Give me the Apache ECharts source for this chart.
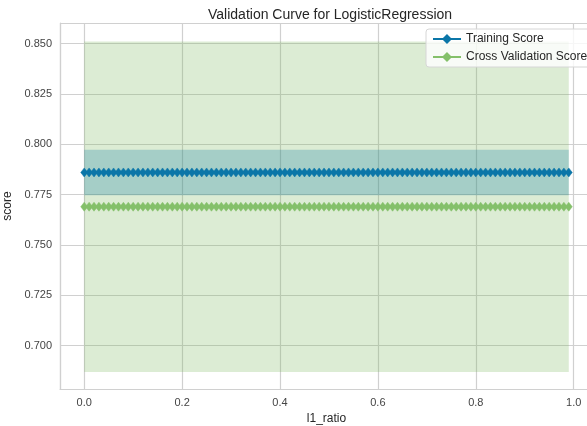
<!DOCTYPE html>
<html>
<head>
<meta charset="utf-8">
<script src="https://cdn.jsdelivr.net/npm/echarts@6/dist/echarts.min.js"></script>
<style>html,body{margin:0;padding:0;background:#fff;}#chart{width:587px;height:426px;}</style>
</head>
<body>
<div id="chart"></div>
<script>
const l1Ratio = [0.00,0.01,0.02,0.03,0.04,0.05,0.06,0.07,0.08,0.09,0.10,0.11,0.12,0.13,0.14,0.15,0.16,0.17,0.18,0.19,0.20,0.21,0.22,0.23,0.24,0.25,0.26,0.27,0.28,0.29,0.30,0.31,0.32,0.33,0.34,0.35,0.36,0.37,0.38,0.39,0.40,0.41,0.42,0.43,0.44,0.45,0.46,0.47,0.48,0.49,0.50,0.51,0.52,0.53,0.54,0.55,0.56,0.57,0.58,0.59,0.60,0.61,0.62,0.63,0.64,0.65,0.66,0.67,0.68,0.69,0.70,0.71,0.72,0.73,0.74,0.75,0.76,0.77,0.78,0.79,0.80,0.81,0.82,0.83,0.84,0.85,0.86,0.87,0.88,0.89,0.90,0.91,0.92,0.93,0.94,0.95,0.96,0.97,0.98,0.99];
const trainScoreMean = [0.786,0.786,0.786,0.786,0.786,0.786,0.786,0.786,0.786,0.786,0.786,0.786,0.786,0.786,0.786,0.786,0.786,0.786,0.786,0.786,0.786,0.786,0.786,0.786,0.786,0.786,0.786,0.786,0.786,0.786,0.786,0.786,0.786,0.786,0.786,0.786,0.786,0.786,0.786,0.786,0.786,0.786,0.786,0.786,0.786,0.786,0.786,0.786,0.786,0.786,0.786,0.786,0.786,0.786,0.786,0.786,0.786,0.786,0.786,0.786,0.786,0.786,0.786,0.786,0.786,0.786,0.786,0.786,0.786,0.786,0.786,0.786,0.786,0.786,0.786,0.786,0.786,0.786,0.786,0.786,0.786,0.786,0.786,0.786,0.786,0.786,0.786,0.786,0.786,0.786,0.786,0.786,0.786,0.786,0.786,0.786,0.786,0.786,0.786,0.786];
const trainScoreStd = [0.0113,0.0113,0.0113,0.0113,0.0113,0.0113,0.0113,0.0113,0.0113,0.0113,0.0113,0.0113,0.0113,0.0113,0.0113,0.0113,0.0113,0.0113,0.0113,0.0113,0.0113,0.0113,0.0113,0.0113,0.0113,0.0113,0.0113,0.0113,0.0113,0.0113,0.0113,0.0113,0.0113,0.0113,0.0113,0.0113,0.0113,0.0113,0.0113,0.0113,0.0113,0.0113,0.0113,0.0113,0.0113,0.0113,0.0113,0.0113,0.0113,0.0113,0.0113,0.0113,0.0113,0.0113,0.0113,0.0113,0.0113,0.0113,0.0113,0.0113,0.0113,0.0113,0.0113,0.0113,0.0113,0.0113,0.0113,0.0113,0.0113,0.0113,0.0113,0.0113,0.0113,0.0113,0.0113,0.0113,0.0113,0.0113,0.0113,0.0113,0.0113,0.0113,0.0113,0.0113,0.0113,0.0113,0.0113,0.0113,0.0113,0.0113,0.0113,0.0113,0.0113,0.0113,0.0113,0.0113,0.0113,0.0113,0.0113,0.0113];
const cvScoreMean = [0.769,0.769,0.769,0.769,0.769,0.769,0.769,0.769,0.769,0.769,0.769,0.769,0.769,0.769,0.769,0.769,0.769,0.769,0.769,0.769,0.769,0.769,0.769,0.769,0.769,0.769,0.769,0.769,0.769,0.769,0.769,0.769,0.769,0.769,0.769,0.769,0.769,0.769,0.769,0.769,0.769,0.769,0.769,0.769,0.769,0.769,0.769,0.769,0.769,0.769,0.769,0.769,0.769,0.769,0.769,0.769,0.769,0.769,0.769,0.769,0.769,0.769,0.769,0.769,0.769,0.769,0.769,0.769,0.769,0.769,0.769,0.769,0.769,0.769,0.769,0.769,0.769,0.769,0.769,0.769,0.769,0.769,0.769,0.769,0.769,0.769,0.769,0.769,0.769,0.769,0.769,0.769,0.769,0.769,0.769,0.769,0.769,0.769,0.769,0.769];
const cvScoreStd = [0.082,0.082,0.082,0.082,0.082,0.082,0.082,0.082,0.082,0.082,0.082,0.082,0.082,0.082,0.082,0.082,0.082,0.082,0.082,0.082,0.082,0.082,0.082,0.082,0.082,0.082,0.082,0.082,0.082,0.082,0.082,0.082,0.082,0.082,0.082,0.082,0.082,0.082,0.082,0.082,0.082,0.082,0.082,0.082,0.082,0.082,0.082,0.082,0.082,0.082,0.082,0.082,0.082,0.082,0.082,0.082,0.082,0.082,0.082,0.082,0.082,0.082,0.082,0.082,0.082,0.082,0.082,0.082,0.082,0.082,0.082,0.082,0.082,0.082,0.082,0.082,0.082,0.082,0.082,0.082,0.082,0.082,0.082,0.082,0.082,0.082,0.082,0.082,0.082,0.082,0.082,0.082,0.082,0.082,0.082,0.082,0.082,0.082,0.082,0.082];
const seriesNames = ['Training Score', 'Cross Validation Score'];
const titleText = 'Validation Curve for LogisticRegression';
const xName = 'l1_ratio';
const yName = 'score';

const TRAIN = '#0b76a8';
const CV = '#84c06a';
const FONT = '"Liberation Sans", Arial, sans-serif';
const GRID = '#d0d0d0';

function pairs(xs, ys) { return xs.map((x, i) => [x, ys[i]]); }

function bandSeries(mean, std, fill) {
  return {
    type: 'custom',
    silent: true,
    data: [[l1Ratio[0], mean[0]]],
    encode: { x: 0, y: 1 },
    z: 1,
    renderItem: function (params, api) {
      const pts = [];
      for (let i = 0; i < l1Ratio.length; i++) pts.push(api.coord([l1Ratio[i], mean[i] + std[i]]));
      for (let i = l1Ratio.length - 1; i >= 0; i--) pts.push(api.coord([l1Ratio[i], mean[i] - std[i]]));
      return { type: 'polygon', shape: { points: pts }, style: { fill: fill, stroke: null } };
    }
  };
}

function lineSeries(name, ys, color) {
  return {
    name: name,
    type: 'line',
    data: pairs(l1Ratio, ys),
    symbol: 'diamond',
    symbolSize: [7, 9],
    showAllSymbol: true,
    lineStyle: { color: color, width: 1.6 },
    itemStyle: { color: color, borderColor: color, borderWidth: 0.5 },
    z: 3,
    animation: false
  };
}

const chart = echarts.init(document.getElementById('chart'), null, { renderer: 'canvas' });
chart.setOption({
  animation: false,
  backgroundColor: '#ffffff',
  textStyle: { fontFamily: FONT },
  title: {
    text: titleText,
    left: 203, top: 3,
    textStyle: { fontFamily: FONT, fontSize: 14, fontWeight: 'normal', color: '#262626' }
  },
  grid: { left: 60, right: -6, top: 23, bottom: 37, containLabel: false, outerBoundsMode: 'none' },
  legend: {
    data: seriesNames,
    orient: 'vertical',
    left: 426, top: 29,
    itemWidth: 28, itemHeight: 9,
    itemGap: 6,
    padding: [4, 8, 4, 6],
    backgroundColor: 'rgba(255,255,255,0.8)',
    borderColor: '#d6d6d6', borderWidth: 1, borderRadius: 3,
    textStyle: { fontFamily: FONT, fontSize: 12, color: '#262626' }
  },
  xAxis: {
    type: 'value',
    min: -0.0495, max: 1.0395,
    minInterval: 0.2, maxInterval: 0.2, splitNumber: 5,
    name: xName, nameLocation: 'middle', nameGap: 22,
    nameTextStyle: { fontFamily: FONT, fontSize: 12, color: '#262626' },
    axisLine: { show: true, onZero: false, lineStyle: { color: GRID, width: 1.2 } },
    axisTick: { show: false },
    axisLabel: { showMinLabel: false, showMaxLabel: false, margin: 8, fontSize: 11, color: '#444', fontFamily: FONT,
      formatter: v => v.toFixed(1) },
    splitLine: { show: true, lineStyle: { color: GRID, width: 1.2 } }
  },
  yAxis: {
    type: 'value',
    min: 0.6785, max: 0.8602,
    minInterval: 0.025, maxInterval: 0.025, splitNumber: 7,
    name: yName, nameLocation: 'middle', nameGap: 42,
    nameTextStyle: { fontFamily: FONT, fontSize: 12, color: '#262626' },
    axisLine: { show: true, onZero: false, lineStyle: { color: GRID, width: 1.2 } },
    axisTick: { show: false },
    axisLabel: { showMinLabel: false, showMaxLabel: false, margin: 8, fontSize: 11, color: '#444', fontFamily: FONT,
      formatter: v => v.toFixed(3) },
    splitLine: { show: true, lineStyle: { color: GRID, width: 1.2 } }
  },
  series: [
    bandSeries(cvScoreMean, cvScoreStd, 'rgba(125,185,95,0.27)'),
    bandSeries(trainScoreMean, trainScoreStd, 'rgba(8,119,164,0.26)'),
    lineSeries(seriesNames[0], trainScoreMean, TRAIN),
    lineSeries(seriesNames[1], cvScoreMean, CV)
  ]
});
</script>
</body>
</html>
